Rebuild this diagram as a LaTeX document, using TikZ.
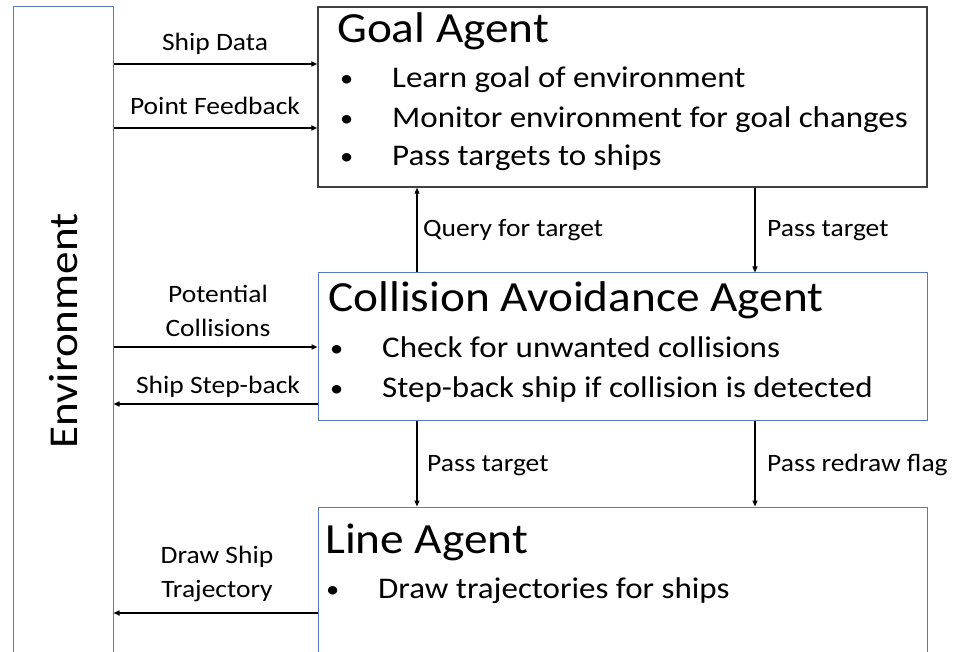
\documentclass[tikz,border=0pt]{standalone}
\usepackage{fontspec}
\setmainfont{Carlito}[FakeStretch=1.1]
\usetikzlibrary{arrows.meta,calc}

\definecolor{agentblue}{RGB}{88,122,188}
\definecolor{agentgray}{RGB}{64,64,64}

\newcommand{\itembullet}{\makebox[52pt][l]{\raisebox{1pt}{\scalebox{0.8}{\textbullet}}}}

\tikzset{
  agentbox/.style={draw=agentblue, line width=1pt, inner sep=0pt, minimum width=609pt},
  title/.style={anchor=base west, inner sep=0pt, font=\fontsize{43}{50}\selectfont},
  item/.style={anchor=base west, inner sep=0pt, font=\fontsize{30}{36}\selectfont},
  lbl/.style={anchor=base, inner sep=0pt, font=\fontsize{25}{30}\selectfont},
  midlbl/.style={anchor=base west, inner sep=0pt, font=\fontsize{25}{30}\selectfont},
  flow/.style={line width=1.8pt, -{Triangle[length=6pt,width=5pt]}},
  vflow/.style={line width=1.2pt, -{Triangle[length=6pt,width=5pt]}}
}

\begin{document}
\begin{tikzpicture}[x=1pt,y=-1pt]

  \useasboundingbox (0,0) rectangle (956,652);

  % boxes
  \node[draw=agentblue, line width=1pt, inner sep=0pt, minimum width=100pt, minimum height=658pt] (env) at (63,336) {};
  \node[agentbox, draw=agentgray, line width=1.5pt, minimum height=180pt] (goalag) at (622.5,97) {};
  \node[agentbox, minimum height=147pt] (collag) at (622.5,346.5) {};
  \node[agentbox, minimum height=158pt] (lineag) at (622.5,586) {};

  \node[rotate=90, inner sep=0pt, font=\fontsize{41}{48}\selectfont] (envtxt) at (63.5,331) {Environment};

  % box texts
  \node[title] (goalttl) at (337,43) {Goal Agent};
  \node[item] (goal1) at (340,88) {\itembullet Learn goal of environment};
  \node[item] (goal2) at (340,128) {\itembullet Monitor environment for goal changes};
  \node[item] (goal3) at (340,166) {\itembullet Pass targets to ships};

  \node[title] (collttl) at (328,312) {Collision Avoidance Agent};
  \node[item] (coll1) at (330,357) {\itembullet Check for unwanted collisions};
  \node[item] (coll2) at (330,397) {\itembullet Step-back ship if collision is detected};

  \node[title] (linettl) at (325,553) {Line Agent};
  \node[item] (line1) at (326,598) {\itembullet Draw trajectories for ships};

  % levels of the connectors
  \coordinate (sd) at (0,64);
  \coordinate (pf) at (0,128);
  \coordinate (pc) at (0,347);
  \coordinate (sb) at (0,404);
  \coordinate (dt) at (0,613);
  \coordinate (qx) at (417,0);
  \coordinate (px) at (755,0);

  % environment <-> agents
  \draw[flow] (env.east |- sd) -- (goalag.west |- sd);
  \draw[flow] (env.east |- pf) -- (goalag.west |- pf);
  \draw[flow] (env.east |- pc) -- (collag.west |- pc);
  \draw[flow] (collag.west |- sb) -- (env.east |- sb);
  \draw[flow] (lineag.west |- dt) -- (env.east |- dt);

  \node[lbl] (sdlbl) at (215,51) {Ship Data};
  \node[lbl] (pflbl) at (215,115) {Point Feedback};
  \node[lbl] (pclbl) at (218,303) {Potential};
  \node[lbl] (pclbl2) at (218,337) {Collisions};
  \node[lbl] (sblbl) at (218,393) {Ship Step-back};
  \node[lbl] (dtlbl) at (217,563) {Draw Ship};
  \node[lbl] (dtlbl2) at (217,597) {Trajectory};

  % between agents
  \draw[vflow] (collag.north -| qx) -- (goalag.south -| qx);
  \draw[vflow] (goalag.south -| px) -- (collag.north -| px);
  \draw[vflow] (collag.south -| qx) -- (lineag.north -| qx);
  \draw[vflow] (collag.south -| px) -- (lineag.north -| px);

  \node[midlbl] (qlbl) at (423,237) {Query for target};
  \node[midlbl] (ptlbl) at (767,237) {Pass target};
  \node[midlbl] (ptlbl2) at (427,471) {Pass target};
  \node[midlbl] (rflbl) at (767,471) {Pass redraw flag};

\end{tikzpicture}
\end{document}
